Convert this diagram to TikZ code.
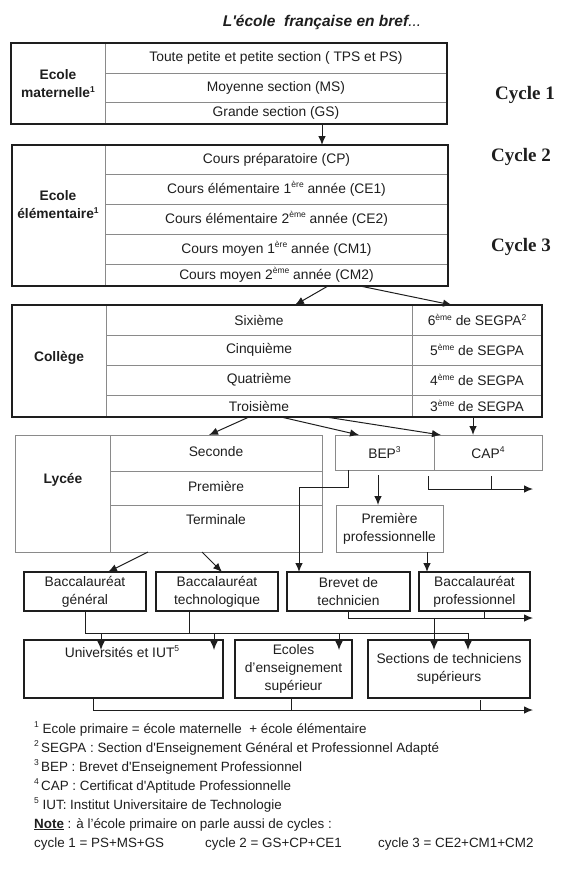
\documentclass[tikz,border=0pt]{standalone}
\usepackage{fontspec}
\setmainfont{Liberation Sans}
\newfontfamily\serifcyc{Liberation Serif}
\usetikzlibrary{arrows.meta,fit}
\definecolor{ink}{HTML}{1E1E1E}
\definecolor{cellgray}{HTML}{8A8A8A}
\newcommand\fs{\fontsize{13.8}{18}\selectfont}
\newcommand\sups[1]{\raisebox{0.42em}{\fontsize{8.5}{9}\selectfont #1}}
\newcommand\mycell[7][]{\node[cell,#1,minimum width={(#5)-(#3)},minimum height={(#6)-(#4)}] (#2) at (#3,#4) {#7};}
\begin{document}
\begin{tikzpicture}[x=1pt,y=-1pt,
  cell/.style={draw=cellgray,line width=0.7pt,inner sep=0pt,outer sep=0pt,anchor=north west,align=center,font=\fs,text=ink},
  outerbox/.style={draw=ink,line width=1.5pt,inner sep=0pt,outer sep=0pt},
  thickbox/.style={draw=ink,line width=1.5pt},
  lab/.style={font=\fs\bfseries,align=center,text=ink,inner sep=0pt},
  txt/.style={font=\fs,align=center,text=ink,inner sep=0pt},
  cyc/.style={font=\serifcyc\bfseries\fontsize{19}{22}\selectfont,text=ink,inner sep=0pt},
  foot/.style={font=\fontsize{13.4}{16}\selectfont,anchor=base west,text=ink,inner sep=0pt},
  conn/.style={draw=ink,line width=1pt},
  arr/.style={conn,-{Latex[length=9pt,width=7.5pt]}}]
\useasboundingbox (0,0) rectangle (565,870);

% title
\node[font=\fontsize{15.5}{18}\selectfont\bfseries\itshape,text=ink,anchor=base,inner sep=0pt] (title) at (322,26)
  {L\textquotesingle école\ \ française en bref{\mdseries...}};

% cycles
\node[cyc] (cyc1) at (525,95) {Cycle 1};
\node[cyc] (cyc2) at (521,157) {Cycle 2};
\node[cyc] (cyc3) at (521,247) {Cycle 3};

% Ecole maternelle
\mycell{m0}{11}{43}{105}{124}{}
\mycell{m1}{105}{43}{447}{73}{Toute petite et petite section ( TPS et PS)}
\mycell{m2}{105}{73}{447}{102}{Moyenne section (MS)}
\mycell{m3}{105}{102}{447}{124}{Grande section (GS)}
\node[outerbox,fit=(m0)(m1)(m3)] (mat) {};
\node[lab] (matlab) at (58,84) {Ecole\\maternelle\sups{1}};

% Ecole elementaire
\mycell{e0}{12}{145}{105}{286}{}
\mycell{e1}{105}{145}{448}{174}{Cours préparatoire (CP)}
\mycell{e2}{105}{174}{448}{204}{Cours élémentaire 1\sups{ère} année (CE1)}
\mycell{e3}{105}{204}{448}{234}{Cours élémentaire 2\sups{ème} année (CE2)}
\mycell{e4}{105}{234}{448}{264}{Cours moyen 1\sups{ère} année (CM1)}
\mycell{e5}{105}{264}{448}{286}{Cours moyen 2\sups{ème} année (CM2)}
\node[outerbox,fit=(e0)(e1)(e5)] (elem) {};
\node[lab] (elemlab) at (58,205) {Ecole\\élémentaire\sups{1}};

% College
\mycell{c0}{12}{305}{106}{417}{}
\mycell{c1}{106}{305}{412}{335}{Sixième}
\mycell{c2}{106}{335}{412}{365}{Cinquième}
\mycell{c3}{106}{365}{412}{395}{Quatrième}
\mycell{c4}{106}{395}{412}{417}{Troisième}
\mycell{s1}{412}{305}{542}{335}{6\sups{ème} de SEGPA\sups{2}}
\mycell{s2}{412}{335}{542}{365}{5\sups{ème} de SEGPA}
\mycell{s3}{412}{365}{542}{395}{4\sups{ème} de SEGPA}
\mycell{s4}{412}{395}{542}{417}{3\sups{ème} de SEGPA}
\node[outerbox,fit=(c0)(s1)(s4)] (coll) {};
\node[lab] (colllab) at (59,358) {Collège};

% Lycee
\mycell{l0}{15}{435}{110}{552}{}
\mycell{l1}{110}{435}{322}{471}{}
\mycell{l2}{110}{471}{322}{505}{}
\mycell{l3}{110}{505}{322}{552}{}
\node[lab] (lyclab) at (63,480) {Lycée};
\node[txt] (seconde) at (216,452) {Seconde};
\node[txt] (premiere) at (216,486) {Première};
\node[txt] (terminale) at (216,520) {Terminale};

% BEP / CAP
\mycell{bep}{335}{435}{434}{470}{BEP\sups{3}}
\mycell{cap}{434}{435}{542}{470}{CAP\sups{4}}
\mycell{prempro}{336}{505}{443}{552}{Première\\professionnelle}

% baccalaureats
\mycell[thickbox]{bacg}{24}{572}{146}{611}{Baccalauréat\\général}
\mycell[thickbox]{bact}{156}{572}{278}{611}{Baccalauréat\\technologique}
\mycell[thickbox]{brevet}{287}{572}{410}{611}{Brevet de\\technicien}
\mycell[thickbox]{bacpro}{419}{572}{530}{611}{Baccalauréat\\professionnel}

% superieur
\mycell[thickbox]{univ}{24}{640}{223}{698}{}
\node[txt] (univtxt) at (122,652) {Universités et IUT\sups{5}};
\mycell[thickbox]{ecoles}{235}{640}{352}{698}{Ecoles\\d’enseignement\\supérieur}
\mycell[thickbox]{sections}{368}{640}{530}{698}{Sections de techniciens\\supérieurs}

% free ends
\coordinate (out1) at (533,489);
\coordinate (out2) at (533,618);
\coordinate (out3) at (533,710);
\coordinate (bus) at (0,633);

% connectors
\draw[arr] ([xshift=46pt]m3.south) -- ([xshift=45.5pt]e1.north);
\draw[arr] ([xshift=51.5pt]e5.south) -- ([xshift=36pt]c1.north);
\draw[arr] ([xshift=83.5pt]e5.south) -- ([xshift=-25pt]s1.north);

\draw[arr] ([xshift=-10pt]c4.south) -- ([xshift=-7pt]l1.north);
\draw[arr] ([xshift=22pt]c4.south) -- ([xshift=-25.5pt]bep.north);
\draw[arr] ([xshift=67pt]c4.south) -- ([xshift=-47pt]cap.north);
\draw[arr] ([xshift=-4pt]s4.south) -- ([xshift=-15pt]cap.north);

\draw[arr] ([xshift=-36.5pt]bep.south) -- ++(0,17) -| ([xshift=-49.5pt]brevet.north);
\draw[arr] ([xshift=-6.5pt,yshift=-5pt]bep.south) -- ([xshift=-11.5pt]prempro.north);
\draw[arr] ([xshift=-6pt,yshift=-6pt]bep.south east) |- (out1);
\draw[conn] ([xshift=3pt,yshift=-6pt]cap.south) -- ([xshift=3pt]cap.south |- out1);
\draw[arr] ([xshift=37.5pt]prempro.south) -- ([xshift=-47.5pt]bacpro.north);

\draw[arr] ([xshift=-68pt]l3.south) -- ([xshift=23pt]bacg.north);
\draw[arr] ([xshift=-14pt]l3.south) -- ([xshift=5pt]bact.north);

\draw[conn] (bacg.south) |- ([xshift=19pt]sections.north |- bus);
\draw[conn] ([xshift=-28pt]bact.south) -- ([xshift=-28pt]bact.south |- bus);
\draw[arr] ([xshift=-22.5pt]univ.north |- bus) -- ([xshift=-22.5pt,yshift=-10pt]univ.north);
\draw[arr] ([xshift=90.5pt]univ.north |- bus) -- ([xshift=90.5pt,yshift=-10pt]univ.north);
\draw[arr] ([xshift=45.5pt]ecoles.north |- bus) -- ([xshift=45.5pt,yshift=-10pt]ecoles.north);
\draw[arr] ([xshift=19pt]sections.north |- bus) -- ([xshift=19pt,yshift=-10pt]sections.north);

\draw[arr] (brevet.south) |- (out2);
\draw[conn] ([xshift=9.5pt]bacpro.south) -- ([xshift=9.5pt]bacpro.south |- out2);
\draw[arr] ([xshift=-15pt]sections.north |- out2) -- ([xshift=-15pt,yshift=-10pt]sections.north);

\draw[arr] ([xshift=-30.5pt]univ.south) |- (out3);
\draw[conn] ([xshift=-2.5pt]ecoles.south) -- ([xshift=-2.5pt]ecoles.south |- out3);
\draw[conn] ([xshift=31pt,yshift=-2pt]sections.south) -- ([xshift=31pt]sections.south |- out3);

% footnotes
\node[foot] (f1) at (34,733) {\sups{1} Ecole primaire = école maternelle\ \ + école élémentaire};
\node[foot] (f2) at (34,752) {\sups{2}\,SEGPA : Section d\textquotesingle Enseignement Général et Professionnel Adapté};
\node[foot] (f3) at (34,771) {\sups{3}\,BEP : Brevet d\textquotesingle Enseignement Professionnel};
\node[foot] (f4) at (34,790) {\sups{4}\,CAP : Certificat d\textquotesingle Aptitude Professionnelle};
\node[foot] (f5) at (34,809) {\sups{5} IUT: Institut Universitaire de Technologie};
\node[foot] (f6) at (34,828) {\textbf{\underline{Note}} : à l’école primaire on parle aussi de cycles :};
\node[foot] (f7) at (34,847) {cycle 1 = PS+MS+GS};
\node[foot] (f8) at (205,847) {cycle 2 = GS+CP+CE1};
\node[foot] (f9) at (378,847) {cycle 3 = CE2+CM1+CM2};
\end{tikzpicture}
\end{document}
